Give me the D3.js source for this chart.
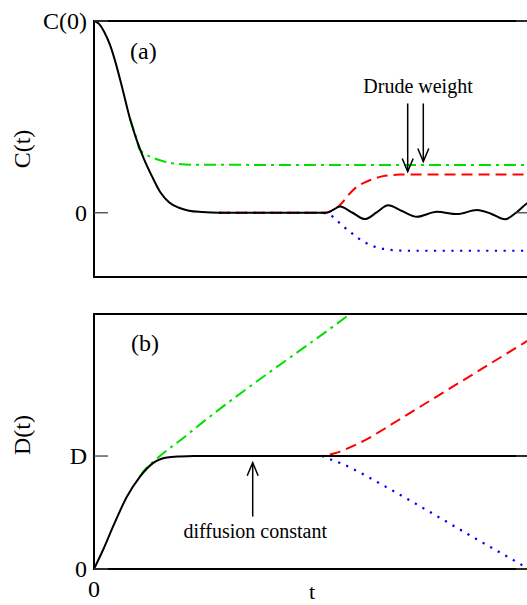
<!DOCTYPE html>
<html>
<head>
<meta charset="utf-8">
<script src="https://cdn.jsdelivr.net/npm/d3@7"></script>
<style>
  html, body { margin: 0; padding: 0; background: #fff; }
  svg { display: block; }
  text { font-family: "Liberation Serif", "Times New Roman", serif; fill: #000; }
</style>
</head>
<body>
<script>
// ---------- data ----------
// shared early part of C(t) (all curves coincide here)
const tEarly = [0, 0.05, 0.10, 0.16, 0.22, 0.29, 0.36, 0.43, 0.50, 0.58, 0.66, 0.75, 0.85, 0.95, 1.08, 1.25, 2.28];
const cEarly = [1, 0.985, 0.945, 0.875, 0.775, 0.635, 0.49, 0.375, 0.28, 0.19, 0.11, 0.055, 0.026, 0.011, 0.004, 0, 0];

// panel (a) tails
const tBlackA = [2.33, 2.40, 2.46, 2.585, 2.71, 2.83, 2.94, 3.08, 3.23, 3.43, 3.63, 3.83, 3.97, 4.11, 4.22, 4.33, 4.40];
const cBlackA = [0, 0.018, 0.032, 0.0, -0.033, 0.003, 0.039, 0.009, -0.021, 0.005, -0.007, 0.014, -0.005, -0.034, 0.0, 0.049, 0.07];
const tRedA = [2.33, 2.46, 2.56, 2.64, 2.73, 2.89, 3.06, 3.13, 4.40];
const cRedA = [0.002, 0.04, 0.102, 0.14, 0.163, 0.191, 0.199, 0.2, 0.2];
const tBlueA = [2.39, 2.477, 2.56, 2.64, 2.76, 2.93, 3.13, 4.40];
const cBlueA = [-0.021, -0.064, -0.099, -0.132, -0.168, -0.191, -0.198, -0.198];
const tGreenA = [0.45, 0.50, 0.56, 0.66, 0.80, 1.00, 4.40];
const cGreenA = [0.335, 0.31, 0.293, 0.274, 0.257, 0.25, 0.249];

// panel (b): D(t)
const tBlackB = [0, 0.09, 0.19, 0.33, 0.46, 0.59, 0.73, 0.86, 1.0, 2.28, 4.40];
const dBlackB = [0, 0.168, 0.375, 0.641, 0.818, 0.937, 0.987, 0.996, 1.0, 1.0, 1.0];
const tGreenB = [0.50, 0.58, 0.70, 0.85, 1.06, 2.56, 2.70];
const dGreenB = [0.87, 0.94, 1.03, 1.13, 1.28, 2.257, 2.35];
const tRedB = [2.28, 2.35, 2.43, 2.53, 2.63, 2.73, 2.88, 3.03, 4.33, 4.40];
const dRedB = [1.0, 1.012, 1.03, 1.065, 1.105, 1.15, 1.228, 1.31, 2.017, 2.055];
const tBlueB = [2.28, 2.33, 2.41, 2.49, 2.65, 2.80, 2.95, 3.26, 3.73, 4.31, 4.40];
const dBlueB = [1.0, 0.982, 0.955, 0.928, 0.858, 0.786, 0.712, 0.556, 0.313, 0.02, -0.026];

// tick labels and annotations
const yTicksA = [{v: 1, label: "C(0)"}, {v: 0, label: "0"}];
const yTicksB = [{v: 1, label: "D"}, {v: 0, label: "0"}];
const xTickLabels = [{v: 0, label: "0"}];
const drudeArrows = [{t: 3.137, from: 0.57, to: 0.215}, {t: 3.293, from: 0.57, to: 0.267}];
const diffArrow = {t: 1.587, from: 0.464, to: 0.94};

// ---------- layout ----------
const W = 527, H = 605;
const left = 94, right = 530;
const topA = 21, botA = 277;
const topB = 314, botB = 569;

const x = d3.scaleLinear().domain([0, 4.36]).range([left, right]);
const yA = d3.scaleLinear().domain([-0.335, 1]).range([botA, topA]);
const yB = d3.scaleLinear().domain([0, 2.257]).range([botB, topB]);

const svg = d3.select("body").append("svg").attr("width", W).attr("height", H);
svg.append("rect").attr("width", W).attr("height", H).attr("fill", "#fff");

const defs = svg.append("defs");
defs.append("clipPath").attr("id", "clipA").append("rect")
  .attr("x", left).attr("y", topA).attr("width", right - left).attr("height", botA - topA);
defs.append("clipPath").attr("id", "clipB").append("rect")
  .attr("x", left).attr("y", topB).attr("width", right - left).attr("height", botB - topB);

function zip(ts, vs) { return ts.map((t, i) => [t, vs[i]]); }
const early = zip(tEarly, cEarly);

const styles = {
  green: {stroke: "#00e000", dash: "12,5,3,5", width: 2},
  red:   {stroke: "#ff0000", dash: "11,6", width: 2},
  blue:  {stroke: "#0000ff", dash: "2.2,6.5", width: 2.2},
  black: {stroke: "#000000", dash: null, width: 2}
};

function drawPanel(clipId, yScale, series) {
  const g = svg.append("g").attr("clip-path", `url(#${clipId})`);
  const line = d3.line().x(d => x(d[0])).y(d => yScale(d[1])).curve(d3.curveMonotoneX);
  series.forEach(s => {
    const st = styles[s.style];
    g.append("path").attr("d", line(s.data))
      .attr("fill", "none").attr("stroke", st.stroke)
      .attr("stroke-width", st.width)
      .attr("stroke-dasharray", st.dash)
      .attr("stroke-linejoin", "round");
  });
}

// ---------- panel (a) ----------
drawPanel("clipA", yA, [
  {style: "green", data: early.filter(d => d[0] >= 0.36 && d[0] < 0.45).concat(zip(tGreenA, cGreenA))},
  {style: "red",   data: early.filter(d => d[0] >= 1.25).concat(zip(tRedA, cRedA))},
  {style: "blue",  data: early.filter(d => d[0] >= 1.25).concat(zip(tBlueA, cBlueA))},
  {style: "black", data: early.concat(zip(tBlackA, cBlackA))}
]);

// ---------- panel (b) ----------
const blackB = zip(tBlackB, dBlackB);
drawPanel("clipB", yB, [
  {style: "green", data: blackB.filter(d => d[0] >= 0.46 && d[0] < 0.5).concat(zip(tGreenB, dGreenB))},
  {style: "red",   data: blackB.filter(d => d[0] >= 1.0 && d[0] < 2.28).concat(zip(tRedB, dRedB))},
  {style: "blue",  data: zip(tBlueB, dBlueB)},
  {style: "black", data: blackB}
]);

// ---------- frames, ticks, labels ----------
function frame(y, top, bot, ticks) {
  svg.append("rect").attr("x", left).attr("y", top).attr("width", right - left).attr("height", bot - top)
    .attr("fill", "none").attr("stroke", "#000").attr("stroke-width", 2);
  ticks.forEach(tk => {
    const yy = y(tk.v);
    svg.append("line").attr("x1", left).attr("x2", left + 14).attr("y1", yy).attr("y2", yy)
      .attr("stroke", "#444").attr("stroke-width", 1.3);
    svg.append("line").attr("x1", right - 14).attr("x2", right).attr("y1", yy).attr("y2", yy)
      .attr("stroke", "#444").attr("stroke-width", 1.3);
    svg.append("text").attr("x", left - 7).attr("y", yy + 8)
      .attr("text-anchor", "end").attr("font-size", 24).text(tk.label);
  });
}
frame(yA, topA, botA, yTicksA);
frame(yB, topB, botB, yTicksB);

xTickLabels.forEach(tk => {
  svg.append("text").attr("x", x(tk.v)).attr("y", 597).attr("text-anchor", "middle")
    .attr("font-size", 24).text(tk.label);
});
svg.append("text").attr("x", 312).attr("y", 599).attr("text-anchor", "middle")
  .attr("font-size", 22).text("t");

// axis titles
svg.append("text").attr("transform", "translate(30,149) rotate(-90)")
  .attr("text-anchor", "middle").attr("font-size", 24).text("C(t)");
svg.append("text").attr("transform", "translate(30,435) rotate(-90)")
  .attr("text-anchor", "middle").attr("font-size", 24).text("D(t)");

// panel labels
svg.append("text").attr("x", 130).attr("y", 59).attr("font-size", 24).text("(a)");
svg.append("text").attr("x", 131).attr("y", 351).attr("font-size", 24).text("(b)");

// annotations
function arrow(xx, y1, y2) {
  const dir = y2 > y1 ? 1 : -1;
  svg.append("line").attr("x1", xx).attr("x2", xx).attr("y1", y1).attr("y2", y2)
    .attr("stroke", "#000").attr("stroke-width", 1.5);
  svg.append("path")
    .attr("d", `M${xx - 5.5},${y2 - dir * 13} L${xx},${y2} L${xx + 5.5},${y2 - dir * 13}`)
    .attr("fill", "none").attr("stroke", "#000").attr("stroke-width", 1.5);
}
drudeArrows.forEach(a => arrow(x(a.t), yA(a.from), yA(a.to)));
svg.append("text").attr("x", 418).attr("y", 93).attr("text-anchor", "middle")
  .attr("font-size", 20).text("Drude weight");

arrow(x(diffArrow.t), yB(diffArrow.from), yB(diffArrow.to));
svg.append("text").attr("x", 327).attr("y", 538).attr("text-anchor", "end")
  .attr("font-size", 20).text("diffusion constant");
</script>
</body>
</html>
